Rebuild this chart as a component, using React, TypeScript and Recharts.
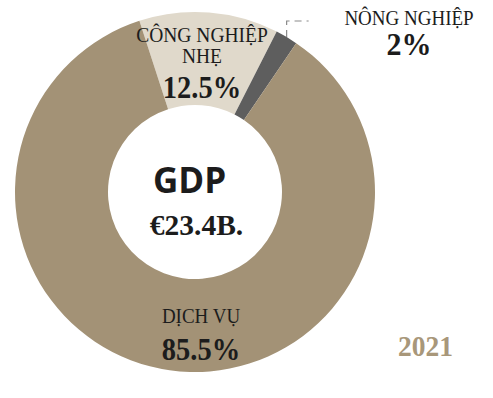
import React from 'react';
import { PieChart, Pie, Cell } from 'recharts';

const categories = ['CÔNG NGHIỆP NHẸ', 'NÔNG NGHIỆP', 'DỊCH VỤ'];
const nameLines = [['CÔNG NGHIỆP', 'NHẸ'], ['NÔNG NGHIỆP'], ['DỊCH VỤ']];
const shares = [12.5, 2, 85.5];
const shareLabels = ['12.5%', '2%', '85.5%'];
const colors = ['#e0d9cb', '#5e5e5e', '#a39276'];
const centerTitle = 'GDP';
const centerValue = '€23.4B.';
const yearLabel = '2021';

const data = categories.map((name, i) => ({ name, value: shares[i] }));

const SERIF = '"Liberation Serif", "Times New Roman", serif';
const SANS = '"Open Sans", "Noto Sans", sans-serif';
const INK = '#1c1c1c';

// label layout, offsets from pie centre
const layout = [
  { nx: 7, ny: [-150, -129], px: 7, py: -94, nSize: 19.5, pSize: 28.5 },
  { nx: 214, ny: [-167], px: 214, py: -137, nSize: 19, pSize: 30 },
  { nx: 6, ny: [131], px: 6, py: 168, nSize: 19, pSize: 28.5 },
];

const STRETCH = 1.08;

function SText({ x, y, size, weight, fill, family, children }: any) {
  return (
    <text
      x={0}
      y={0}
      transform={`translate(${x},${y}) scale(1,${STRETCH})`}
      textAnchor="middle"
      fontFamily={family || SERIF}
      fontSize={size}
      fontWeight={weight || 'normal'}
      fill={fill || INK}
    >
      {children}
    </text>
  );
}

function renderLabel(props: any) {
  const { cx, cy, index, midAngle, outerRadius } = props;
  const l = layout[index];
  const RAD = Math.PI / 180;
  const parts: any[] = [];
  nameLines[index].forEach((line, k) => {
    parts.push(
      <SText key={`n${k}`} x={cx + l.nx} y={cy + l.ny[k]} size={l.nSize}>
        {line}
      </SText>
    );
  });
  parts.push(
    <SText key="p" x={cx + l.px} y={cy + l.py} size={l.pSize} weight="bold">
      {shareLabels[index]}
    </SText>
  );
  if (index === 1) {
    const mx = cx + outerRadius * Math.cos(-midAngle * RAD);
    const my = cy + outerRadius * Math.sin(-midAngle * RAD);
    const topY = cy - 171;
    parts.push(
      <path
        key="c"
        d={`M${mx},${my} L${mx},${topY} L${mx + 22},${topY}`}
        fill="none"
        stroke="#8a8a8a"
        strokeWidth={1.2}
        strokeDasharray="7 5"
      />
    );
  }
  if (index === 0) {
    parts.push(
      <text
        key="g"
        x={cx - 5.5}
        y={cy + 1}
        textAnchor="middle"
        fontFamily={SANS}
        fontSize={35}
        fontWeight="bold"
        fill={INK}
      >
        {centerTitle}
      </text>
    );
    parts.push(
      <text
        key="v"
        x={cx + 1.5}
        y={cy + 43}
        textAnchor="middle"
        fontFamily={SERIF}
        fontSize={29.5}
        fontWeight="bold"
        fill={INK}
      >
        {centerValue}
      </text>
    );
    parts.push(
      <SText key="y" x={cx + 230.5} y={cy + 164} size={27.5} weight="bold" fill="#a8977a">
        {yearLabel}
      </SText>
    );
  }
  return <g>{parts}</g>;
}

export default function App() {
  return (
    <div style={{ position: 'absolute', left: 0, top: 0, width: 493, height: 398, background: '#fff' }}>
      <PieChart width={493} height={398} margin={{ top: 0, right: 0, bottom: 0, left: 0 }}>
        <Pie
          data={data}
          dataKey="value"
          nameKey="name"
          cx={195}
          cy={192}
          innerRadius={87}
          outerRadius={180}
          startAngle={108}
          endAngle={108 - 360}
          stroke="none"
          label={renderLabel}
          labelLine={false}
          isAnimationActive={false}
        >
          {data.map((d, i) => (
            <Cell key={d.name} fill={colors[i]} />
          ))}
        </Pie>
      </PieChart>
    </div>
  );
}
